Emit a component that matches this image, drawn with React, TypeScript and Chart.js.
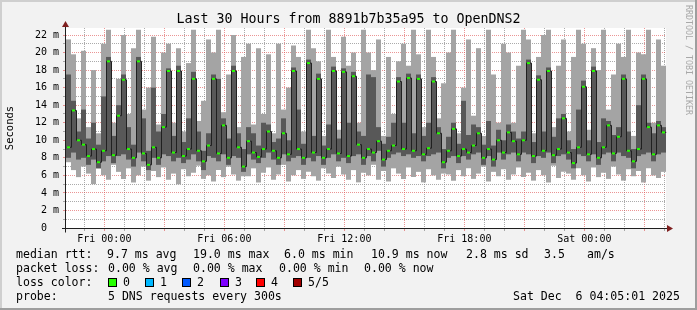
import React, { useEffect, useRef } from "react";
import { Chart, registerables } from "chart.js";

Chart.register(...registerables);

// ---- time axis (hours relative to Fri 00:00); first step starts Thu 22:05, 15 min per column
const startHour = -115 / 60;
const stepHours = 0.25;

// ---- data (milliseconds)
const medianRtt = [
  9.2, 13.4, 10.0, 9.5, 8.2, 9.0, 7.5, 8.8, 19.0, 8.3,
  12.8, 16.9, 9.0, 8.0, 19.0, 8.5, 7.2, 9.2, 8.0, 11.5,
  17.9, 8.6, 17.9, 8.2, 9.0, 17.0, 8.8, 7.6, 9.4, 17.0,
  8.5, 11.7, 8.0, 17.9, 9.2, 7.0, 9.9, 8.6, 8.1, 9.0,
  11.0, 8.8, 8.0, 10.8, 8.4, 17.9, 9.0, 8.0, 18.8, 8.6,
  17.0, 8.0, 9.0, 17.9, 8.5, 17.8, 8.2, 17.3, 9.5, 8.0,
  9.0, 8.6, 9.9, 7.8, 8.8, 9.4, 16.7, 9.0, 17.1, 8.8,
  17.0, 8.4, 9.1, 16.7, 10.8, 7.5, 8.8, 11.3, 8.2, 9.0,
  8.6, 9.4, 10.8, 8.0, 9.0, 7.8, 10.0, 8.6, 10.9, 9.9,
  8.4, 10.0, 18.8, 8.2, 16.9, 8.8, 17.9, 8.3, 9.0, 12.5,
  8.6, 7.4, 9.2, 16.1, 8.4, 17.9, 8.0, 9.2, 11.7, 8.5,
  10.4, 17.0, 8.8, 7.6, 9.0, 17.0, 11.5, 8.4, 11.7, 10.9,
];
const rttMax = [
  21.5, 19.8, 12.5, 20.2, 11.5, 18.0, 10.8, 21.0, 22.6, 12.0,
  17.0, 22.0, 13.0, 20.5, 22.6, 13.5, 16.0, 21.8, 11.8, 20.0,
  21.0, 12.0, 20.5, 11.0, 18.8, 22.6, 12.2, 14.5, 21.5, 20.0,
  22.6, 13.2, 17.5, 22.0, 11.5, 19.5, 21.0, 11.8, 20.5, 13.0,
  19.8, 10.8, 21.0, 13.5, 16.0, 20.8, 19.5, 11.0, 22.6, 20.5,
  19.0, 10.5, 22.6, 19.5, 11.2, 21.8, 18.5, 20.0, 12.0, 22.6,
  20.0, 18.0, 21.5, 10.5, 19.5, 13.0, 19.0, 21.0, 18.5, 22.6,
  19.8, 11.5, 22.6, 19.5, 12.5, 16.5, 20.0, 22.6, 10.8, 16.0,
  21.5, 12.8, 20.5, 10.5, 22.6, 17.5, 12.0, 21.0, 20.0, 12.0,
  18.5, 22.6, 21.5, 10.8, 19.5, 22.0, 22.6, 11.5, 18.5, 21.5,
  11.0, 19.5, 22.6, 21.0, 11.2, 20.5, 18.0, 22.6, 13.5, 17.5,
  21.0, 19.5, 22.6, 10.5, 20.0, 19.8, 22.6, 12.0, 21.5, 18.5,
];
const rttMin = [
  7.5, 6.6, 5.8, 7.0, 6.2, 5.0, 6.8, 6.0, 5.5, 7.2,
  6.4, 5.6, 6.8, 5.2, 6.0, 7.0, 5.4, 6.5, 5.8, 6.9,
  5.5, 6.2, 5.0, 6.7, 5.9, 6.3, 7.1, 5.6, 6.0, 5.3,
  6.6, 5.8, 7.0, 6.1, 5.4, 5.9, 5.9, 6.8, 5.2, 6.3,
  6.9, 5.5, 6.1, 7.2, 5.3, 6.0, 6.6, 5.6, 6.4, 5.9,
  5.4, 6.8, 6.2, 5.7, 7.0, 6.1, 5.5, 6.6, 5.2, 6.3,
  6.0, 7.2, 5.5, 6.5, 5.3, 6.8, 6.2, 5.6, 6.9, 5.8,
  6.4, 5.2, 6.7, 6.0, 5.5, 6.2, 6.1, 5.4, 6.6, 5.9,
  6.8, 5.6, 6.2, 7.0, 5.3, 6.4, 5.9, 6.7, 5.5, 6.1,
  6.9, 5.8, 6.3, 5.4, 6.6, 6.0, 5.2, 7.1, 5.7, 6.4,
  6.2, 5.5, 6.8, 6.0, 5.3, 6.9, 5.8, 6.3, 5.6, 7.0,
  6.1, 5.4, 6.7, 5.9, 6.5, 5.2, 6.8, 6.0, 5.7, 6.4,
];
// second-fastest and fourth-fastest of the 5 pings (dark smoke band)
const rttLow = [
  8.0, 8.6, 7.8, 8.0, 7.2, 7.8, 6.8, 7.6, 8.2, 7.4,
  8.2, 8.4, 7.8, 7.0, 8.6, 7.6, 6.6, 8.0, 7.2, 8.4,
  8.2, 7.6, 8.0, 7.4, 7.8, 8.4, 7.6, 6.6, 8.2, 8.0,
  7.6, 8.4, 7.2, 8.2, 8.0, 6.4, 8.4, 7.8, 7.4, 8.0,
  8.6, 7.8, 7.2, 8.4, 7.6, 8.0, 8.2, 7.2, 8.0, 7.6,
  8.2, 7.2, 8.0, 8.4, 7.6, 8.0, 7.4, 8.2, 8.4, 7.2,
  8.2, 7.6, 8.8, 7.0, 8.0, 8.4, 8.6, 8.2, 8.4, 8.0,
  8.2, 7.6, 8.2, 8.4, 8.6, 6.8, 8.0, 8.2, 7.4, 8.2,
  7.8, 8.4, 8.6, 7.2, 8.2, 7.0, 8.6, 7.8, 8.4, 8.6,
  7.6, 8.6, 8.4, 7.4, 8.2, 8.0, 8.6, 7.4, 8.2, 8.4,
  7.8, 6.8, 8.4, 8.2, 7.6, 8.4, 7.2, 8.4, 8.6, 7.6,
  8.6, 8.2, 8.0, 6.8, 8.2, 8.4, 8.6, 7.6, 8.4, 8.6,
];
const rttHigh = [
  17.5, 14.5, 11.0, 13.5, 10.2, 12.0, 9.5, 15.0, 19.5, 10.5,
  14.0, 17.5, 11.5, 9.5, 19.5, 12.5, 8.8, 16.0, 11.0, 13.0,
  18.2, 10.5, 18.5, 9.8, 12.5, 17.8, 11.0, 8.8, 10.8, 17.5,
  17.0, 12.5, 10.2, 18.5, 10.8, 9.0, 11.5, 10.8, 9.4, 12.0,
  11.8, 9.8, 10.2, 12.5, 10.0, 18.3, 13.5, 9.6, 19.2, 10.5,
  17.6, 9.4, 11.8, 18.4, 10.2, 18.2, 12.0, 17.8, 11.0, 10.5,
  17.5, 17.2, 11.5, 9.6, 10.4, 12.0, 17.2, 12.0, 17.6, 10.8,
  17.5, 10.5, 12.0, 17.2, 11.5, 9.0, 10.4, 12.0, 9.6, 14.5,
  10.6, 11.8, 11.5, 9.5, 12.2, 9.4, 11.2, 10.0, 11.8, 11.0,
  10.2, 11.0, 19.2, 9.8, 17.4, 11.0, 18.3, 10.4, 12.5, 13.0,
  10.0, 9.0, 13.5, 16.8, 10.0, 18.4, 9.8, 12.5, 12.2, 10.6,
  11.5, 17.5, 11.0, 9.0, 14.0, 17.5, 12.0, 10.8, 12.2, 11.5,
];

// ---- axes
const yMaxMs = 22.8;
const yTickValues = [0, 1, 2, 3, 4, 5, 6, 7, 8, 9, 10, 11, 12, 13, 14, 15, 16, 17, 18, 19, 20, 21, 22];
const xTickHours = [-1, 0, 1, 2, 3, 4, 5, 6, 7, 8, 9, 10, 11, 12, 13, 14, 15, 16, 17, 18, 19, 20, 21, 22, 23, 24, 25, 26, 27, 28];
const xLabelHours = [0, 6, 12, 18, 24];
const xLabelNames = ["Fri 00:00", "Fri 06:00", "Fri 12:00", "Fri 18:00", "Sat 00:00"];

// ---- texts
const titleText = "Last 30 Hours from 8891b7b35a95 to OpenDNS2";
const yAxisTitle = "Seconds";
const watermark = "RRDTOOL / TOBI OETIKER";
const rttRow = ["median rtt:", "9.7 ms avg", "19.0 ms max", "6.0 ms min", "10.9 ms now", "2.8 ms sd", "3.5", "am/s"];
const lossRow = ["packet loss:", "0.00 % avg", "0.00 % max", "0.00 % min", "0.00 % now"];
const lossColorLabel = "loss color:";
const lossLevels = ["0", "1", "2", "3", "4", "5/5"];
const lossColors = ["#26ff00", "#00b8ff", "#0059ff", "#7e00ff", "#ff0000", "#a10000"];
const probeRow = ["probe:", "5 DNS requests every 300s", "Sat Dec  6 04:05:01 2025"];

// ---- styling / layout
const W = 697;
const H = 310;
const MONO = "'DejaVu Sans Mono', monospace";
const GRID = "rgba(143,143,143,0.75)";
const MGRID = "rgba(222,79,79,0.6)";
const ARROW = "#7f1f1f";
const AXIS = "#1f1f1f";
const PLOT_LEFT = 66;
const PLOT_TOP = 28;
const PLOT_RIGHT = 666;
const PLOT_BOTTOM = 228;

const rttX = [16, 107, 193, 284, 371, 466, 544, 587];
const lossX = [16, 108, 193, 279, 364];
const boxX = [108, 145, 182, 220, 256, 293];
const probeX = [16, 108, 513];
const rowY = [254, 268, 282, 296];

const rrdPlugin = {
  id: "rrdFrame",
  beforeDraw(chart: any) {
    const { ctx, chartArea: a } = chart;
    ctx.save();
    ctx.fillStyle = "#ffffff";
    ctx.fillRect(a.left, a.top, a.right - a.left, a.bottom - a.top);
    ctx.restore();
  },
  beforeDatasetDraw(chart: any, args: any) {
    if (args.meta.type === "line") {
      chart.ctx.save();
      chart.ctx.translate(0.5, 0);
    }
  },
  afterDatasetDraw(chart: any, args: any) {
    if (args.meta.type === "line") chart.ctx.restore();
  },
  afterDraw(chart: any) {
    const { ctx, chartArea: a } = chart;
    const ax = Math.round(a.left) - 0.5;
    const ay = Math.round(a.bottom) + 0.5;
    ctx.save();
    ctx.strokeStyle = AXIS;
    ctx.lineWidth = 1;
    ctx.beginPath();
    ctx.moveTo(a.left - 4, ay);
    ctx.lineTo(a.right + 2, ay);
    ctx.moveTo(ax, ay + 4);
    ctx.lineTo(ax, a.top - 2);
    ctx.stroke();
    ctx.fillStyle = ARROW;
    ctx.beginPath();
    ctx.moveTo(a.right + 1, ay - 3.5);
    ctx.lineTo(a.right + 7, ay);
    ctx.lineTo(a.right + 1, ay + 3.5);
    ctx.closePath();
    ctx.fill();
    ctx.beginPath();
    ctx.moveTo(ax - 3.5, a.top - 1);
    ctx.lineTo(ax, a.top - 7);
    ctx.lineTo(ax + 3.5, a.top - 1);
    ctx.closePath();
    ctx.fill();
    ctx.restore();
  },
};

function SmokeChart() {
  const ref = useRef<HTMLCanvasElement | null>(null);

  useEffect(() => {
    if (!ref.current) return;
    const colStart = (i: number) => startHour + i * stepHours;
    const colMid = (i: number) => startHour + (i + 0.5) * stepHours;
    const endHour = startHour + medianRtt.length * stepHours;
    const pxMs = yMaxMs / (PLOT_BOTTOM - PLOT_TOP); // one pixel in ms

    const barCommon = {
      type: "bar" as const,
      grouped: false,
      barPercentage: 1,
      categoryPercentage: 1,
      borderWidth: 0,
      inflateAmount: 0,
    };

    const chart = new Chart(ref.current, {
      type: "bar",
      data: {
        datasets: [
          {
            ...barCommon,
            label: "loss 0",
            data: medianRtt.map((m, i) => ({ x: colMid(i), y: [m - pxMs, m + pxMs] })) as any,
            backgroundColor: lossColors[0],
            barPercentage: 0.6,
            order: 1,
          },
          {
            type: "line" as const,
            label: "median",
            data: [
              ...medianRtt.map((m, i) => ({ x: colStart(i), y: m })),
              { x: endHour, y: medianRtt[medianRtt.length - 1] },
            ],
            borderColor: "#202020",
            borderWidth: 1,
            stepped: true,
            pointRadius: 0,
            fill: false,
            order: 2,
          },
          {
            ...barCommon,
            label: "inner smoke",
            data: rttLow.map((v, i) => ({ x: colMid(i), y: [v, rttHigh[i]] })) as any,
            backgroundColor: "#585858",
            order: 3,
          },
          {
            ...barCommon,
            label: "outer smoke",
            data: rttMin.map((v, i) => ({ x: colMid(i), y: [v, rttMax[i]] })) as any,
            backgroundColor: "#a4a4a4",
            order: 4,
          },
        ] as any,
      },
      options: {
        animation: false,
        responsive: false,
        devicePixelRatio: 1,
        events: [],
        layout: { padding: { left: 0, top: PLOT_TOP, right: W - PLOT_RIGHT, bottom: 0 } },
        plugins: { legend: { display: false }, tooltip: { enabled: false }, title: { display: false } },
        scales: {
          x: {
            type: "linear",
            min: startHour,
            max: endHour,
            offset: false,
            z: 1,
            afterBuildTicks: (s: any) => {
              s.ticks = xTickHours.map((v) => ({ value: v }));
            },
            afterFit: (s: any) => {
              s.height = H - PLOT_BOTTOM;
            },
            grid: {
              offset: false,
              lineWidth: 1,
              color: (c: any) => (c.tick && c.tick.value % 3 === 0 ? MGRID : GRID),
              tickColor: (c: any) => (c.tick && c.tick.value % 3 === 0 ? MGRID : GRID),
              drawTicks: true,
              tickLength: 3,
            },
            border: { display: false, dash: [1, 1] },
            ticks: {
              autoSkip: false,
              maxRotation: 0,
              minRotation: 0,
              padding: 2,
              color: "#000",
              font: { family: MONO, size: 10 },
              callback: (v: any) => {
                const k = xLabelHours.indexOf(Number(v));
                return k >= 0 ? xLabelNames[k] : "";
              },
            },
          },
          y: {
            type: "linear",
            min: 0,
            max: yMaxMs,
            z: 1,
            afterBuildTicks: (s: any) => {
              s.ticks = yTickValues.map((v) => ({ value: v }));
            },
            afterFit: (s: any) => {
              s.width = PLOT_LEFT;
            },
            grid: {
              lineWidth: 1,
              color: (c: any) => (c.tick && c.tick.value % 2 === 0 ? MGRID : GRID),
              tickColor: (c: any) => (c.tick && c.tick.value % 2 === 0 ? MGRID : GRID),
              drawTicks: true,
              tickLength: 3,
            },
            border: { display: false, dash: [1, 1] },
            ticks: {
              autoSkip: false,
              padding: 4,
              color: "#000",
              font: { family: MONO, size: 10 },
              callback: (v: any) => {
                const n = Number(v);
                if (n === 0) return "0  ";
                return n % 2 === 0 ? `${n} m` : "";
              },
            },
            title: {
              display: true,
              text: yAxisTitle,
              color: "#000",
              font: { family: MONO, size: 10.5 },
              padding: { top: 4, bottom: 0 },
            },
          },
        },
      } as any,
      plugins: [rrdPlugin],
    });
    return () => chart.destroy();
  }, []);

  return (
    <canvas
      ref={ref}
      width={W}
      height={H}
      style={{ position: "absolute", left: 0, top: 0, width: W, height: H }}
    />
  );
}

const txt = (x: number, cy: number, size = 11.55, lh = 14): React.CSSProperties => ({
  position: "absolute",
  left: x,
  top: cy - lh / 2,
  fontFamily: MONO,
  fontSize: size,
  lineHeight: `${lh}px`,
  whiteSpace: "pre",
  color: "#000",
});

export default function App() {
  return (
    <div
      style={{
        position: "absolute",
        left: 0,
        top: 0,
        width: W,
        height: H,
        background: "#f2f2f2",
        overflow: "hidden",
      }}
    >
      {/* rrdtool shade frame */}
      <div style={{ position: "absolute", left: 0, top: 0, width: W, height: 2, background: "#cfcfcf" }} />
      <div style={{ position: "absolute", left: 0, top: 0, width: 2, height: H, background: "#cfcfcf" }} />
      <div style={{ position: "absolute", left: W - 2, top: 0, width: 2, height: H, background: "#9e9e9e" }} />
      <div style={{ position: "absolute", left: 0, top: H - 2, width: W, height: 2, background: "#9e9e9e" }} />

      <SmokeChart />

      <div
        style={{
          position: "absolute",
          left: 0,
          top: 11,
          width: W,
          textAlign: "center",
          fontFamily: MONO,
          fontSize: 13.3,
          lineHeight: "16px",
          whiteSpace: "pre",
          color: "#000",
        }}
      >
        {titleText}
      </div>

      <div
        style={{
          position: "absolute",
          left: 684,
          top: 5,
          fontFamily: MONO,
          fontSize: 8.3,
          lineHeight: "9px",
          color: "#a8a8a8",
          writingMode: "vertical-rl",
          whiteSpace: "pre",
        }}
      >
        {watermark}
      </div>

      {rttRow.map((t, i) => (
        <div key={"r" + i} style={txt(rttX[i], rowY[0])}>{t}</div>
      ))}
      {lossRow.map((t, i) => (
        <div key={"l" + i} style={txt(lossX[i], rowY[1])}>{t}</div>
      ))}
      <div style={txt(16, rowY[2])}>{lossColorLabel}</div>
      {lossLevels.map((t, i) => (
        <React.Fragment key={"c" + i}>
          <div
            style={{
              position: "absolute",
              left: boxX[i],
              top: rowY[2] - 4,
              width: 7,
              height: 7,
              border: "1px solid #000",
              background: lossColors[i],
            }}
          />
          <div style={txt(boxX[i] + 15, rowY[2])}>{t}</div>
        </React.Fragment>
      ))}
      {probeRow.map((t, i) => (
        <div key={"p" + i} style={txt(probeX[i], rowY[3])}>{t}</div>
      ))}
    </div>
  );
}
